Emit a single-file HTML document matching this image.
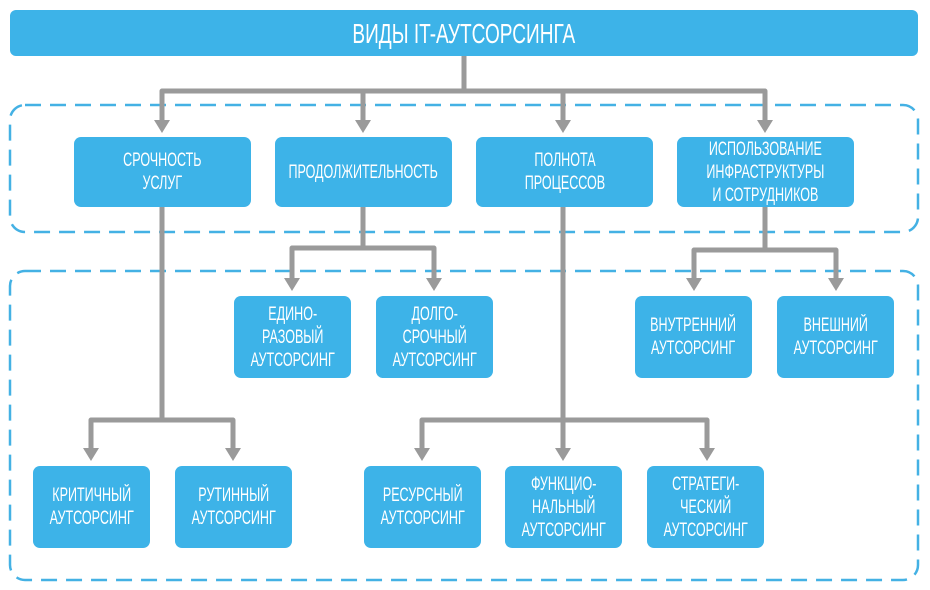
<!DOCTYPE html>
<html><head><meta charset="utf-8"><style>
body{margin:0;width:930px;height:590px;background:#fff;position:relative;overflow:hidden;font-family:"Liberation Sans",sans-serif;}
.b{position:absolute;background:#3db3e8;border-radius:7px;color:#fff;display:flex;align-items:center;justify-content:center;text-align:center;}
.b span{display:inline-block;transform:scaleX(.66);white-space:nowrap;font-size:19px;line-height:23px;}
svg{position:absolute;left:0;top:0;}
</style></head><body>
<svg width="930" height="590">
<g fill="none" stroke="#44b1e4" stroke-width="2.5" stroke-dasharray="16,9">
<rect x="10" y="105" width="908" height="127" rx="15"/>
<rect x="10" y="271" width="908" height="309" rx="15"/>
</g>
<g fill="none" stroke="#9a9a9a" stroke-width="5" stroke-linejoin="round">
<path d="M464 56V91M162 123V91H765V123M363 91V123M563 91V123"/>
<path d="M162 207V420M91 452V420H233V452"/>
<path d="M363 207V248M292 282V248H434V282"/>
<path d="M563 207V456M422 452V420H707V452"/>
<path d="M765 207V250M694 282V250H836V282"/>
</g>
<g fill="#9a9a9a">
<path d="M154 120h16l-8 13z"/><path d="M355 120h16l-8 13z"/><path d="M555 120h16l-8 13z"/><path d="M757 120h16l-8 13z"/>
<path d="M83 448h16l-8 13z"/><path d="M225 448h16l-8 13z"/>
<path d="M284 278h16l-8 13z"/><path d="M426 278h16l-8 13z"/>
<path d="M686 278h16l-8 13z"/><path d="M828 278h16l-8 13z"/>
<path d="M414 448h16l-8 13z"/><path d="M555 448h16l-8 13z"/><path d="M699 448h16l-8 13z"/>
</g>
</svg>
<div class="b" style="left:10px;top:10px;width:908px;height:46px;border-radius:6px"><span style="font-size:28px;transform:scaleX(.68)">ВИДЫ IT-АУТСОРСИНГА</span></div>
<div class="b" style="left:74px;top:137px;width:177px;height:70px"><span>СРОЧНОСТЬ<br>УСЛУГ</span></div>
<div class="b" style="left:275px;top:137px;width:177px;height:70px"><span>ПРОДОЛЖИТЕЛЬНОСТЬ</span></div>
<div class="b" style="left:476px;top:137px;width:177px;height:70px"><span>ПОЛНОТА<br>ПРОЦЕССОВ</span></div>
<div class="b" style="left:677px;top:137px;width:177px;height:70px"><span>ИСПОЛЬЗОВАНИЕ<br>ИНФРАСТРУКТУРЫ<br>И СОТРУДНИКОВ</span></div>
<div class="b" style="left:234px;top:296px;width:117px;height:82px"><span>ЕДИНО-<br>РАЗОВЫЙ<br>АУТСОРСИНГ</span></div>
<div class="b" style="left:376px;top:296px;width:117px;height:82px"><span>ДОЛГО-<br>СРОЧНЫЙ<br>АУТСОРСИНГ</span></div>
<div class="b" style="left:635px;top:296px;width:117px;height:82px"><span>ВНУТРЕННИЙ<br>АУТСОРСИНГ</span></div>
<div class="b" style="left:777px;top:296px;width:117px;height:82px"><span>ВНЕШНИЙ<br>АУТСОРСИНГ</span></div>
<div class="b" style="left:33px;top:466px;width:117px;height:82px"><span>КРИТИЧНЫЙ<br>АУТСОРСИНГ</span></div>
<div class="b" style="left:175px;top:466px;width:117px;height:82px"><span>РУТИННЫЙ<br>АУТСОРСИНГ</span></div>
<div class="b" style="left:364px;top:466px;width:117px;height:82px"><span>РЕСУРСНЫЙ<br>АУТСОРСИНГ</span></div>
<div class="b" style="left:505px;top:466px;width:117px;height:82px"><span>ФУНКЦИО-<br>НАЛЬНЫЙ<br>АУТСОРСИНГ</span></div>
<div class="b" style="left:647px;top:466px;width:117px;height:82px"><span>СТРАТЕГИ-<br>ЧЕСКИЙ<br>АУТСОРСИНГ</span></div>
</body></html>
